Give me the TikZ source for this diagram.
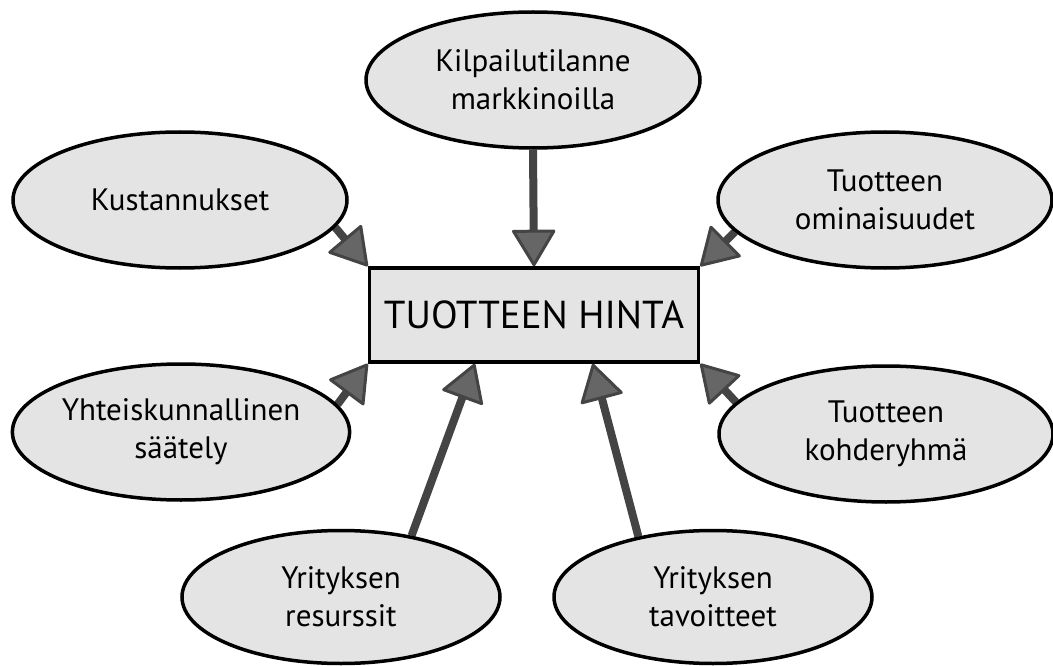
\documentclass[tikz,border=0pt]{standalone}
\usepackage{fontspec}
\setmainfont{PT Sans}
\usetikzlibrary{shapes.geometric,arrows.meta,calc,backgrounds}

\definecolor{nodefill}{HTML}{E4E4E4}
\definecolor{shaftgray}{HTML}{444444}
\definecolor{headgray}{HTML}{666666}

\tikzset{
  factor/.style={ellipse, draw=black, line width=3.5pt, fill=nodefill,
    minimum width=334pt, minimum height=136pt, inner sep=0pt, align=center,
    font=\fontsize{31}{38}\selectfont},
  smallfactor/.style={factor, minimum width=318pt, minimum height=133pt},
  pricebox/.style={rectangle, draw=black, line width=3.5pt, fill=nodefill,
    minimum width=329pt, minimum height=94pt, inner sep=0pt,
    font=\fontsize{39}{44}\selectfont},
  influence/.style={draw=shaftgray, line width=8pt,
    -{Triangle[width=45pt,length=38pt,line width=3pt,round,fill=headgray]}},
}

\begin{document}
\begin{tikzpicture}[x=1pt,y=-1pt]
  \useasboundingbox (0,0) rectangle (1053,666);

  % central box
  \node[pricebox] (price) at (534,315) {TUOTTEEN HINTA};

  % surrounding factors
  \node[factor] (kil) at (533,80) {Kilpailutilanne\\markkinoilla};
  \node[factor] (kus) at (180,200) {Kustannukset};
  \node[factor] (omi) at (885,200) {Tuotteen\\ominaisuudet};
  \node[factor] (saa) at (181,432) {Yhteiskunnallinen\\säätely};
  \node[factor] (koh) at (886,434) {Tuotteen\\kohderyhmä};
  \node[smallfactor] (res) at (341,597) {Yrityksen\\resurssit};
  \node[smallfactor] (tav) at (713,597) {Yrityksen\\tavoitteet};

  % arrows pointing to the price
  \begin{scope}[on background layer]
    \draw[influence] (kil.south) -- (price.north);
    \draw[influence] (kus.-10) -- (price.north west);
    \draw[influence] (omi.192) -- (price.north east);
    \draw[influence] (saa.10) -- (price.south west);
    \draw[influence] (koh.168) -- (price.south east);
    \draw[influence] (res.41) -- ($(price.south west)+(107,0)$);
    \draw[influence] (tav.141) -- ($(price.south west)+(225,0)$);
  \end{scope}
\end{tikzpicture}
\end{document}
